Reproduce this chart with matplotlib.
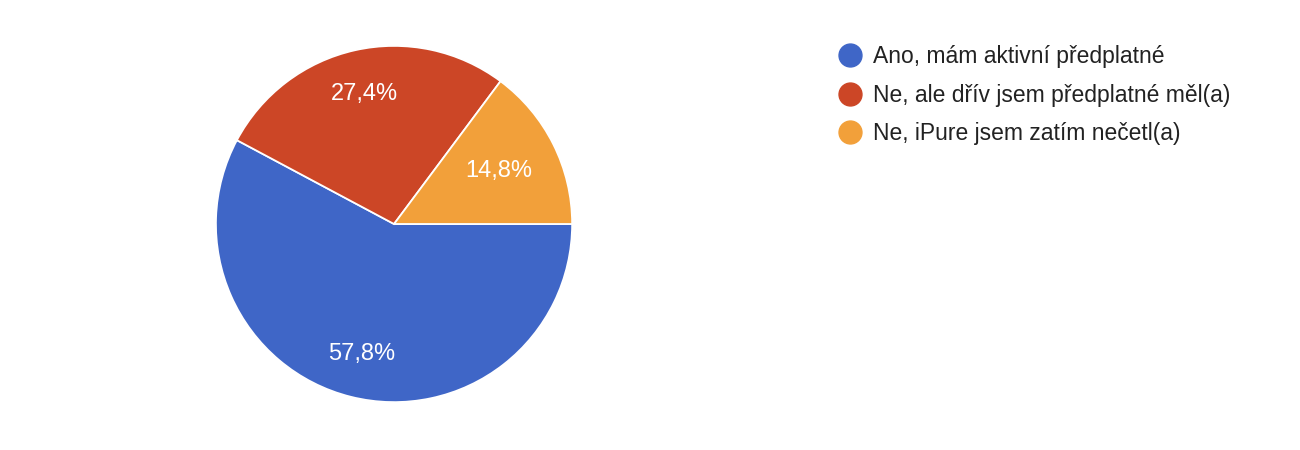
import matplotlib.pyplot as plt
from matplotlib.lines import Line2D

plt.rcParams['font.family'] = ['Liberation Sans', 'DejaVu Sans']

labels = ['Ano, mám aktivní předplatné',
          'Ne, ale dřív jsem předplatné měl(a)',
          'Ne, iPure jsem zatím nečetl(a)']
values = [57.8, 27.4, 14.8]
colors = ['#3f66c7', '#cc4626', '#f2a03a']

fig = plt.figure(figsize=(13, 4.5), dpi=100)
ax = fig.add_axes([0.1654, 0.1044, 0.2754, 0.7956])

wedges, texts, autotexts = ax.pie(
    values, colors=colors, startangle=0, counterclock=False,
    autopct=lambda p: f'{p:.1f}%'.replace('.', ','), pctdistance=0.75,
    wedgeprops=dict(edgecolor='white', linewidth=1.3),
    textprops=dict(color='white', fontsize=17))
# small slice label sits a bit closer to the centre
x, y = autotexts[2].get_position()
autotexts[2].set_position((x * 0.88, y * 0.88))

ax.set_xlim(-1.005, 1.005)
ax.set_ylim(-1.005, 1.005)
ax.set_aspect('equal')

handles = [Line2D([0], [0], marker='o', linestyle='none', markersize=16.5,
                  markerfacecolor=c, markeredgecolor=c) for c in colors]
fig.legend(handles, labels, loc='upper left', bbox_to_anchor=(0.645, 0.90),
           frameon=False, fontsize=16.5, handlelength=1.0, handletextpad=0.5,
           labelspacing=0.68, borderpad=0, borderaxespad=0, labelcolor='#222222')

fig.savefig('out.png', dpi=100, facecolor='white')
